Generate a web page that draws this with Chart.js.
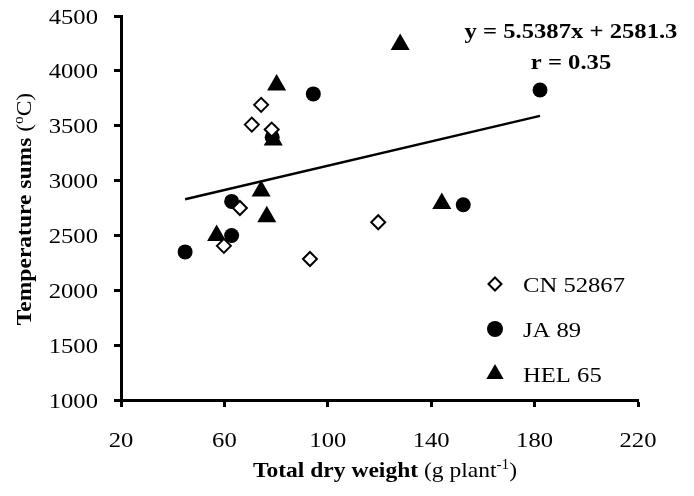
<!DOCTYPE html>
<html>
<head>
<meta charset="utf-8">
<script src="https://cdn.jsdelivr.net/npm/chart.js@4/dist/chart.umd.min.js"></script>
<style>
  html, body { margin: 0; padding: 0; background: #fff; }
  #wrap { width: 694px; height: 496px; }
  .warm { position: absolute; left: -999px; top: 0; font-family: "Liberation Serif"; }
</style>
</head>
<body>
<div class="warm">a <b>b</b></div>
<div id="wrap"><canvas id="chart" width="694" height="496"></canvas></div>
<script>
// values
const cnX = [74.2, 70.6, 78.3, 66.0, 59.8, 93.1, 119.5];
const cnY = [3690, 3510, 3465, 2750, 2405, 2285, 2620];
const jaX = [94.4, 78.5, 62.8, 62.8, 44.8, 152.4, 182.1];
const jaY = [3790, 3395, 2810, 2500, 2350, 2780, 3825];
const helX = [80.2, 78.9, 74.2, 76.4, 57.0, 144.1, 128.0];
const helY = [3870, 3370, 2905, 2670, 2500, 2790, 4240];
const seriesNames = ["CN 52867", "JA 89", "HEL 65"];
const trendCoef = [5.5387, 2581.3];
const xTicks = [20, 60, 100, 140, 180, 220];
const yTicks = [1000, 1500, 2000, 2500, 3000, 3500, 4000, 4500];

const SX = 1.12; // the reference text is a little wide
const SERIF = '"Liberation Serif", serif';

function pts(xs, ys) {
  return xs.map((x, i) => ({ x: x, y: ys[i] }));
}

const allX = cnX.concat(jaX, helX);
const xMin = Math.min(...allX);
const xMax = Math.max(...allX);
const trend = [xMin, xMax].map(x => ({ x: x, y: trendCoef[0] * x + trendCoef[1] }));

function drawParts(ctx, parts, x, y, align, size) {
  let w = 0;
  parts.forEach(p => {
    ctx.font = (p.bold ? "bold " : "") + (p.sup ? size * 0.65 : size) + "px " + SERIF;
    p.w = ctx.measureText(p.t).width;
    w += p.w;
  });
  let sx = x;
  if (align === "center") sx = x - w * SX / 2;
  if (align === "right") sx = x - w * SX;
  ctx.save();
  ctx.translate(sx, y);
  ctx.scale(SX, 1);
  ctx.fillStyle = "#000";
  ctx.textBaseline = "alphabetic";
  ctx.textAlign = "left";
  let cx = 0;
  parts.forEach(p => {
    ctx.font = (p.bold ? "bold " : "") + (p.sup ? size * 0.65 : size) + "px " + SERIF;
    ctx.fillText(p.t, cx, p.sup ? -size * 0.4 : 0);
    cx += p.w;
  });
  ctx.restore();
}

function marker(ctx, type, x, y) {
  ctx.save();
  ctx.fillStyle = "#000";
  ctx.strokeStyle = "#000";
  ctx.beginPath();
  if (type === 0) {
    const r = 6.5;
    ctx.moveTo(x, y - r); ctx.lineTo(x + r, y); ctx.lineTo(x, y + r); ctx.lineTo(x - r, y); ctx.closePath();
    ctx.fillStyle = "#fff"; ctx.fill();
    ctx.lineWidth = 2; ctx.stroke();
  } else if (type === 1) {
    ctx.arc(x, y, 8, 0, Math.PI * 2);
    ctx.fill();
  } else {
    const r = 10;
    ctx.moveTo(x, y - r);
    ctx.lineTo(x + r * Math.sqrt(3) / 2, y + r / 2);
    ctx.lineTo(x - r * Math.sqrt(3) / 2, y + r / 2);
    ctx.closePath();
    ctx.fill();
  }
  ctx.restore();
}

const textPlugin = {
  id: "textPlugin",
  afterDraw(chart) {
    const ctx = chart.ctx;
    const xs = chart.scales.x, ys = chart.scales.y;
    xTicks.forEach(v => {
      drawParts(ctx, [{ t: String(v) }], xs.getPixelForValue(v), 447, "center", 22);
    });
    yTicks.forEach(v => {
      drawParts(ctx, [{ t: String(v) }], 98, ys.getPixelForValue(v) + 7.5, "right", 22);
    });
    // equation
    drawParts(ctx, [{ t: "y = " + trendCoef[0] + "x + " + trendCoef[1], bold: true }], 571, 38, "center", 22);
    drawParts(ctx, [{ t: "r = 0.35", bold: true }], 571, 69, "center", 22);
    // legend
    seriesNames.forEach((name, i) => {
      const cy = 284 + i * 45;
      marker(ctx, i, 495, cy);
      drawParts(ctx, [{ t: name }], 523, cy + 7.5, "left", 22);
    });
    // axis titles
    drawParts(ctx, [
      { t: "Total dry weight", bold: true },
      { t: " (g plant" },
      { t: "-1", sup: true },
      { t: ")" }
    ], 385, 477, "center", 21);
    ctx.save();
    ctx.translate(31, 209);
    ctx.rotate(-Math.PI / 2);
    drawParts(ctx, [
      { t: "Temperature sums", bold: true },
      { t: " (" },
      { t: "o", sup: true },
      { t: "C)" }
    ], 0, 0, "center", 21);
    ctx.restore();
  }
};

function makeChart() {
  new Chart(document.getElementById("chart"), {
    type: "scatter",
    data: {
      datasets: [
        {
          label: seriesNames[0], data: pts(cnX, cnY), order: 0,
          pointStyle: "rectRot", pointRadius: 7, pointBorderWidth: 2,
          backgroundColor: "#fff", borderColor: "#000"
        },
        {
          label: seriesNames[1], data: pts(jaX, jaY), order: 1,
          pointStyle: "circle", pointRadius: 7.5, pointBorderWidth: 0,
          backgroundColor: "#000", borderColor: "#000"
        },
        {
          label: seriesNames[2], data: pts(helX, helY), order: 2,
          pointStyle: "triangle", pointRadius: 11, pointBorderWidth: 0,
          backgroundColor: "#000", borderColor: "#000"
        },
        {
          type: "line", label: "trend", data: trend, order: 10,
          showLine: true, pointRadius: 0, borderColor: "#000", borderWidth: 2.5, fill: false
        }
      ]
    },
    options: {
      responsive: false,
      animation: false,
      layout: { padding: { left: 0, top: 16, right: 56, bottom: 0 } },
      plugins: { legend: { display: false }, tooltip: { enabled: false } },
      scales: {
        x: {
          type: "linear", min: 20, max: 220,
          ticks: { stepSize: 40, display: false },
          grid: { drawOnChartArea: false, drawTicks: true, tickLength: 7, tickWidth: 3, tickColor: "#000" },
          border: { color: "#000", width: 3 },
          afterFit(scale) { scale.height = 96; }
        },
        y: {
          type: "linear", min: 1000, max: 4500,
          ticks: { stepSize: 500, display: false },
          grid: { drawOnChartArea: false, drawTicks: true, tickLength: 7, tickWidth: 3, tickColor: "#000" },
          border: { color: "#000", width: 3 },
          afterFit(scale) { scale.width = 121; }
        }
      }
    },
    plugins: [textPlugin]
  });
}

Promise.all([
  document.fonts.load('22px "Liberation Serif"'),
  document.fonts.load('bold 22px "Liberation Serif"')
]).then(makeChart, makeChart);
</script>
</body>
</html>
